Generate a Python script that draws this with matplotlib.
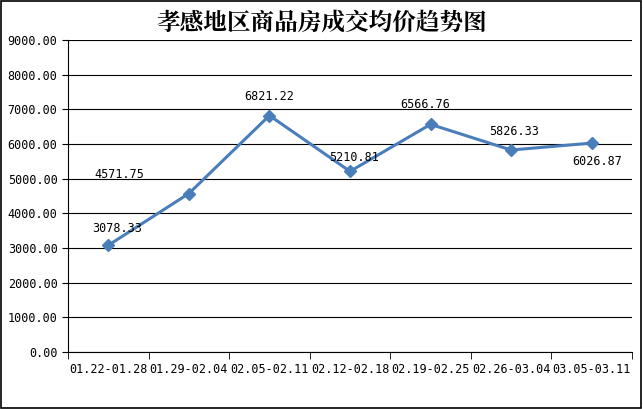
import matplotlib
matplotlib.use("Agg")
import matplotlib.pyplot as plt

plt.rcParams['font.family'] = ['Noto Sans CJK SC', 'DejaVu Sans']

weeks = ["01.22-01.28", "01.29-02.04", "02.05-02.11", "02.12-02.18",
         "02.19-02.25", "02.26-03.04", "03.05-03.11"]
prices = [3078.33, 4571.75, 6821.22, 5210.81, 6566.76, 5826.33, 6026.87]
# label offsets in points (dx, dy)
offsets = [(6, 12), (-50, 14), (0, 14), (3, 10), (-4, 14), (2, 13), (4, -13)]

fig = plt.figure(figsize=(6.43, 4.09), dpi=100)
fig.patches.append(plt.Rectangle((0.002, 0.002), 0.995, 0.995, transform=fig.transFigure,
                                 fill=False, edgecolor='black', linewidth=1.2))
ax = fig.add_axes([68/643, 57/409, (632-68)/643, (352-40)/409])

x = range(len(weeks))
ax.plot(x, prices, color='#4a7ebb', linewidth=2.2, marker='D', markersize=6)
for i, v in enumerate(prices):
    ax.annotate(f"{v:.2f}", (i, v), xytext=offsets[i], textcoords='offset points',
                ha='center', va='center', fontsize=8.5, family='DejaVu Sans Mono')

ax.set_xlim(-0.5, 6.5)
ax.set_ylim(0, 9000)
ax.set_yticks(range(0, 9001, 1000))
ax.set_yticklabels([f"{v:.2f}" for v in range(0, 9001, 1000)], fontsize=8.5, family='DejaVu Sans Mono')
ax.set_xticks(list(x))
ax.set_xticklabels(weeks, fontsize=8.5, family='DejaVu Sans Mono')
ax.set_xticks([i + 0.5 for i in range(-1, 7)], minor=True)
ax.tick_params(axis='x', which='major', length=0, pad=8)
ax.tick_params(axis='x', which='minor', length=5)
ax.tick_params(axis='y', length=4)
ax.yaxis.grid(True, color='black', linewidth=0.8)
ax.set_axisbelow(True)
for s in ['top', 'right']:
    ax.spines[s].set_visible(False)

fig.text(0.5, 0.945, "孝感地区商品房成交均价趋势图", ha='center', va='center',
         fontsize=17, fontweight='bold', family=['Noto Serif CJK SC', 'Noto Sans CJK SC'])
fig.savefig("out.png", dpi=100)
